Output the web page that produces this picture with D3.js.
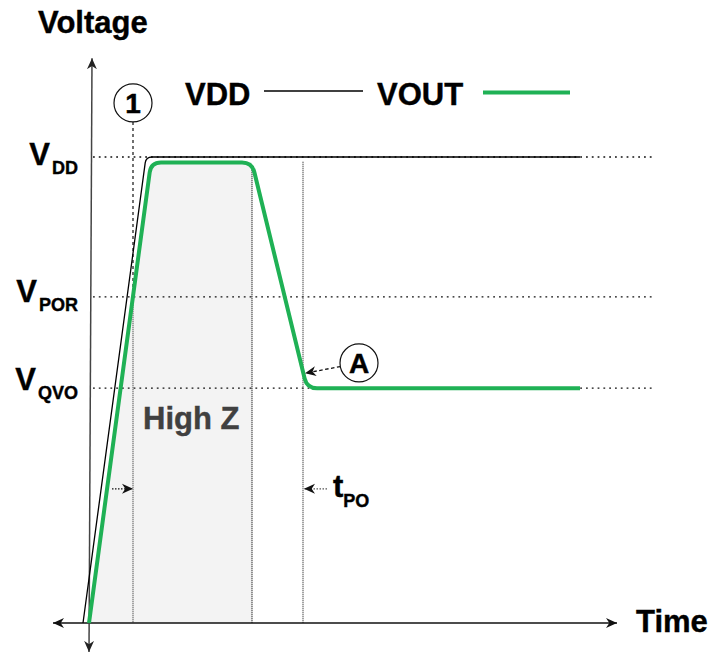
<!DOCTYPE html>
<html>
<head>
<meta charset="utf-8">
<script src="https://cdn.jsdelivr.net/npm/d3@7"></script>
<style>
  body { margin: 0; background: #fff; }
  svg { display: block; font-family: "Liberation Sans", Arial, sans-serif; font-weight: bold; }
</style>
</head>
<body>
<div id="chart"></div>
<script>
// Data (time in arbitrary units, voltage in volts-ish units)
const levelSubs = ["DD", "POR", "QVO"];
const levelValues = [5, 3.5, 2.52];
const seriesNames = ["VDD", "VOUT"];
const vddTime = [-0.6, 5.7, 49.1];
const vddVolt = [0, 5, 5];
const voutTime = [0, 6.2, 16.3, 21.8, 49.1];
const voutVolt = [0, 4.94, 4.94, 2.52, 2.52];
const markerTimes = [4.4, 16.3, 21.4]; // V_POR crossing, end of High Z, t_PO

const width = 727;
const height = 652;
const green = "#1fb155";

const x = d3.scaleLinear().domain([0, 53]).range([89, 619]);
const y = d3.scaleLinear().domain([0, 5]).range([623, 157]);

const svg = d3.select("#chart")
  .append("svg")
    .attr("width", width)
    .attr("height", height);

// Arrow markers
const defs = svg.append("defs");
const addMarker = (id, color, size) => {
  defs.append("marker")
      .attr("id", id)
      .attr("viewBox", "0 -5 10 10")
      .attr("refX", 10)
      .attr("refY", 0)
      .attr("markerUnits", "userSpaceOnUse")
      .attr("markerWidth", size)
      .attr("markerHeight", size)
      .attr("orient", "auto-start-reverse")
    .append("path")
      .attr("d", "M0,-4.5L10,0L0,4.5L3,0Z")
      .attr("fill", color);
};
addMarker("arrow-axis", "#111", 11);
addMarker("arrow-yaxis", "#222", 11);
addMarker("arrow-small", "#111", 11);

// Polyline with rounded corners
const roundedPath = (pts, radii) => {
  const p = d3.path();
  p.moveTo(pts[0][0], pts[0][1]);
  for (let i = 1; i < pts.length - 1; i++) {
    const [px, py] = pts[i - 1], [cx, cy] = pts[i], [nx, ny] = pts[i + 1];
    const l1 = Math.hypot(cx - px, cy - py), l2 = Math.hypot(nx - cx, ny - cy);
    const r = Math.min(radii[i - 1], l1 / 2, l2 / 2);
    const ax = cx - (cx - px) / l1 * r, ay = cy - (cy - py) / l1 * r;
    const bx = cx + (nx - cx) / l2 * r, by = cy + (ny - cy) / l2 * r;
    p.lineTo(ax, ay);
    p.quadraticCurveTo(cx, cy, bx, by);
  }
  const last = pts[pts.length - 1];
  p.lineTo(last[0], last[1]);
  return p.toString();
};

const voutPts = voutTime.map((t, i) => [x(t), y(voutVolt[i])]);
const vddPts = vddTime.map((t, i) => [x(t), y(vddVolt[i])]);

// High Z shading
const shadePts = [
  [x(voutTime[0]), y(0)],
  [x(voutTime[1]), y(voutVolt[1])],
  [x(markerTimes[1]), y(voutVolt[2])],
  [x(markerTimes[1]), y(0)]
];
svg.append("path")
    .attr("d", roundedPath(shadePts, [10, 0]) + "Z")
    .attr("fill", "#f3f3f3");

// Horizontal dotted level lines
svg.append("g")
    .attr("stroke", "#111")
    .attr("stroke-width", 1.3)
    .attr("stroke-dasharray", "1.8 4")
  .selectAll("line")
  .data(levelValues)
  .join("line")
    .attr("x1", x(0.4))
    .attr("x2", x(56.3))
    .attr("y1", d => y(d))
    .attr("y2", d => y(d));

// Vertical marker lines
const circleR = 19;
const c1 = [x(markerTimes[0]), y(5.58)];
svg.append("line")
    .attr("x1", x(markerTimes[0])).attr("x2", x(markerTimes[0]))
    .attr("y1", c1[1] + circleR).attr("y2", y(levelValues[1]))
    .attr("stroke", "#111")
    .attr("stroke-width", 1.2)
    .attr("stroke-dasharray", "3 3");
svg.append("line")
    .attr("x1", x(markerTimes[0])).attr("x2", x(markerTimes[0]))
    .attr("y1", y(levelValues[1])).attr("y2", y(0))
    .attr("stroke", "#444")
    .attr("stroke-width", 1.2)
    .attr("stroke-dasharray", "1 1");
svg.append("line")
    .attr("x1", x(markerTimes[1])).attr("x2", x(markerTimes[1]))
    .attr("y1", y(4.9)).attr("y2", y(0))
    .attr("stroke", "#111")
    .attr("stroke-width", 1.2)
    .attr("stroke-dasharray", "1 1");
svg.append("line")
    .attr("x1", x(markerTimes[2])).attr("x2", x(markerTimes[2]))
    .attr("y1", y(4.95)).attr("y2", y(0))
    .attr("stroke", "#333")
    .attr("stroke-width", 1.2)
    .attr("stroke-dasharray", "1 1");

// Axes
svg.append("line")
    .attr("x1", x(-3.6)).attr("x2", x(52.8))
    .attr("y1", y(0)).attr("y2", y(0))
    .attr("stroke", "#111")
    .attr("stroke-width", 1.4)
    .attr("marker-start", "url(#arrow-axis)")
    .attr("marker-end", "url(#arrow-axis)");
svg.append("line")
    .attr("x1", x(0)).attr("x2", x(0.3))
    .attr("y1", y(-0.31)).attr("y2", y(6.06))
    .attr("stroke", "#444")
    .attr("stroke-width", 1.5)
    .attr("marker-start", "url(#arrow-yaxis)")
    .attr("marker-end", "url(#arrow-yaxis)");

// Series lines
svg.append("path")
    .attr("d", roundedPath(vddPts, [6]))
    .attr("fill", "none")
    .attr("stroke", "#000")
    .attr("stroke-width", 1.3);
svg.append("path")
    .attr("d", roundedPath(voutPts, [10, 10, 10]))
    .attr("fill", "none")
    .attr("stroke", green)
    .attr("stroke-width", 4)
    .attr("stroke-linejoin", "round");

// Small dotted arrows at t markers
const arrowV = 1.44;
svg.append("line")
    .attr("x1", x(2.3)).attr("x2", x(markerTimes[0]))
    .attr("y1", y(arrowV)).attr("y2", y(arrowV))
    .attr("stroke", "#111")
    .attr("stroke-width", 1.2)
    .attr("stroke-dasharray", "1.5 1.5")
    .attr("marker-end", "url(#arrow-small)");
svg.append("line")
    .attr("x1", x(23.8)).attr("x2", x(markerTimes[2] + 0.1))
    .attr("y1", y(arrowV)).attr("y2", y(arrowV))
    .attr("stroke", "#555")
    .attr("stroke-width", 1.2)
    .attr("stroke-dasharray", "1.5 1.5")
    .attr("marker-end", "url(#arrow-small)");

// Circle annotations
const cA = [x(27.0), y(2.79)];
const tipA = [x(21.6), y(2.68)];
const dA = Math.hypot(tipA[0] - cA[0], tipA[1] - cA[1]);
svg.append("line")
    .attr("x1", cA[0] + (tipA[0] - cA[0]) / dA * circleR)
    .attr("y1", cA[1] + (tipA[1] - cA[1]) / dA * circleR)
    .attr("x2", tipA[0]).attr("y2", tipA[1])
    .attr("stroke", "#111")
    .attr("stroke-width", 1.3)
    .attr("stroke-dasharray", "3.5 2.5")
    .attr("marker-end", "url(#arrow-small)");

const circles = svg.append("g")
  .selectAll("g")
  .data([{c: c1, label: "1"}, {c: cA, label: "A"}])
  .join("g")
    .attr("transform", d => `translate(${d.c[0]},${d.c[1]})`);
circles.append("circle")
    .attr("r", circleR)
    .attr("fill", "#fff")
    .attr("stroke", "#111")
    .attr("stroke-width", 1.2);
circles.append("text")
    .attr("text-anchor", "middle")
    .attr("y", 10)
    .attr("font-size", 28)
    .attr("fill", "#000")
    .attr("stroke", "#000")
    .attr("stroke-width", 0.5)
    .text(d => d.label);

// Text group with slightly heavier weight
const txt = svg.append("g")
    .attr("fill", "#000")
    .attr("stroke", "#000")
    .attr("stroke-width", 0.4);

// Level labels
const labelOffsets = [8, 5, 2];
const levelLabels = txt.append("g")
    .attr("font-size", 31)
  .selectAll("text")
  .data(levelValues)
  .join("text")
    .attr("text-anchor", "end")
    .attr("x", 78)
    .attr("y", (d, i) => y(d) + labelOffsets[i]);
levelLabels.append("tspan").text("V");
levelLabels.append("tspan")
    .attr("dx", 2)
    .attr("dy", 9)
    .attr("font-size", 18)
    .text((d, i) => levelSubs[i]);

// Axis titles
txt.append("text")
    .attr("x", 38).attr("y", 33)
    .attr("font-size", 31)
    .text("Voltage");
txt.append("text")
    .attr("x", 636).attr("y", 632)
    .attr("font-size", 31)
    .text("Time");

// High Z label
txt.append("text")
    .attr("x", 143).attr("y", 429)
    .attr("font-size", 31)
    .attr("fill", "#404040")
    .attr("stroke", "#404040")
    .text("High Z");

// t_PO label
const tpo = txt.append("text")
    .attr("x", 333).attr("y", 497)
    .attr("font-size", 31);
tpo.append("tspan").text("t");
tpo.append("tspan").attr("dy", 10).attr("font-size", 18).text("PO");

// Legend
txt.append("text").attr("x", 185).attr("y", 105).attr("font-size", 31).text(seriesNames[0]);
txt.append("text").attr("x", 377).attr("y", 105).attr("font-size", 31).text(seriesNames[1]);
svg.append("line")
    .attr("x1", 264).attr("x2", 363)
    .attr("y1", 91).attr("y2", 91)
    .attr("stroke", "#000")
    .attr("stroke-width", 1.3);
svg.append("line")
    .attr("x1", 483).attr("x2", 570)
    .attr("y1", 92.5).attr("y2", 92.5)
    .attr("stroke", green)
    .attr("stroke-width", 4);
</script>
</body>
</html>
